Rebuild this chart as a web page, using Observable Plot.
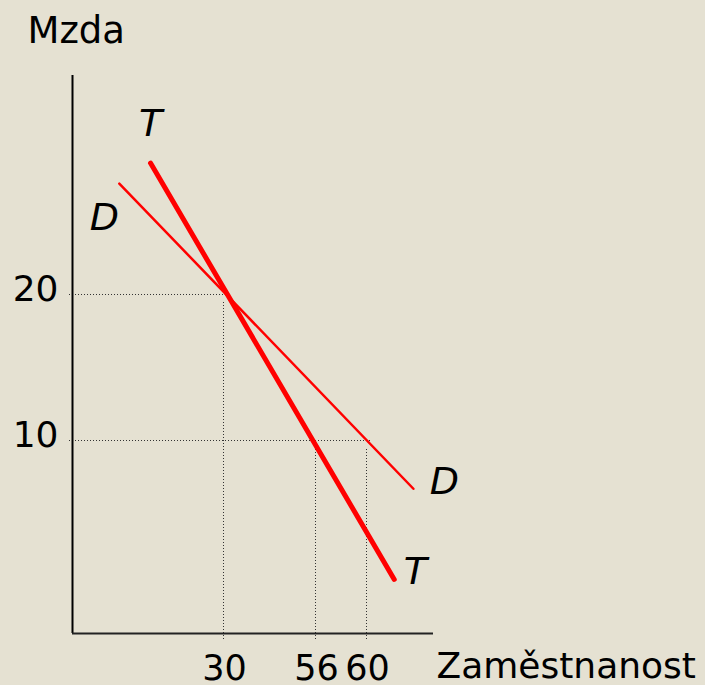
<!DOCTYPE html>
<html>
<head>
<meta charset="utf-8">
<script src="https://cdn.jsdelivr.net/npm/d3@7"></script>
<script src="https://cdn.jsdelivr.net/npm/@observablehq/plot@0.6"></script>
<style>
  html, body { margin: 0; padding: 0; background: #E5E1D2; }
  #chart svg { display: block; }
</style>
</head>
<body>
<div id="chart"></div>
<script>
// Schematic labour-market chart (non-proportional axes)
const xTicks = [30, 56, 60];
const yTicks = [10, 20];
const xTickLabels = ["30", "56", "60"];
const yTickLabels = ["10", "20"];

// Curve T (thick) and demand curve D (thin)
const curveT = [
  {x: 15.5, y: 29.0},
  {x: 65.8, y: 2.8}
];
const curveD = [
  {x: 9.3, y: 27.6},
  {x: 69.8, y: 7.5}
];

// Guide lines
const guideH = [{y: 20, x2: 30}, {y: 10, x2: 60}];
const guideV = [{x: 30, y2: 20}, {x: 56, y2: 10}, {x: 60, y2: 10}];

const xAxisMax = 74;
const yAxisMax = 35;

const font = "DejaVu Sans, Verdana, sans-serif";

const chart = Plot.plot({
  width: 705,
  height: 685,
  style: {background: "#E5E1D2", fontFamily: font},
  x: {type: "linear", domain: [0, 30, 56, 60, 74], range: [72, 223, 315, 366, 433], axis: null},
  y: {type: "linear", domain: [0, 10, 35], range: [633, 440, 75], axis: null},
  marks: [
    // dotted guides
    Plot.ruleY(guideH, {y: "y", x1: 0, x2: "x2", stroke: "#333", strokeWidth: 1, strokeDasharray: "1,2", insetLeft: -3, insetRight: -4}),
    Plot.ruleX(guideV, {x: "x", y1: 0, y2: "y2", stroke: "#333", strokeWidth: 1, strokeDasharray: "1,2", insetTop: 6, insetBottom: -7}),
    // axes
    Plot.ruleX([0], {y1: 0, y2: yAxisMax, stroke: "#000", strokeWidth: 2}),
    Plot.ruleY([0], {x1: 0, x2: xAxisMax, stroke: "#222", strokeWidth: 2}),
    // curves
    Plot.line(curveD, {x: "x", y: "y", stroke: "#FF0000", strokeWidth: 2.5}),
    Plot.line(curveT, {x: "x", y: "y", stroke: "#FF0000", strokeWidth: 5}),
    // tick labels
    Plot.text(xTicks, {x: d => d, y: 0, text: (d, i) => xTickLabels[i], dx: 1, dy: 35, fontSize: 35, fill: "#000", textAnchor: "middle", lineAnchor: "middle"}),
    Plot.text(yTicks, {x: 0, y: d => d, text: (d, i) => yTickLabels[i], dx: -14, dy: -5, fontSize: 36, fill: "#000", textAnchor: "end", lineAnchor: "middle"}),
    // axis titles
    Plot.text(["Mzda"], {x: 0, y: yAxisMax, text: d => d, dx: -45, dy: -44, fontSize: 37, fill: "#000", textAnchor: "start", lineAnchor: "middle"}),
    Plot.text(["Zaměstnanost"], {x: xAxisMax, y: 0, text: d => d, dx: 3, dy: 33, fontSize: 36, fill: "#000", textAnchor: "start", lineAnchor: "middle"}),
    // curve labels
    Plot.text([curveT[0]], {x: "x", y: "y", text: () => "T", dx: 0, dy: -39, fontSize: 38, fontStyle: "italic", fill: "#000", textAnchor: "middle", lineAnchor: "middle"}),
    Plot.text([curveT[1]], {x: "x", y: "y", text: () => "T", dx: 21, dy: -8, fontSize: 38, fontStyle: "italic", fill: "#000", textAnchor: "middle", lineAnchor: "middle"}),
    Plot.text([curveD[0]], {x: "x", y: "y", text: () => "D", dx: -15, dy: 34, fontSize: 38, fontStyle: "italic", fill: "#000", textAnchor: "middle", lineAnchor: "middle"}),
    Plot.text([curveD[1]], {x: "x", y: "y", text: () => "D", dx: 31, dy: -7, fontSize: 38, fontStyle: "italic", fill: "#000", textAnchor: "middle", lineAnchor: "middle"})
  ]
});

document.getElementById("chart").appendChild(chart);
</script>
</body>
</html>
